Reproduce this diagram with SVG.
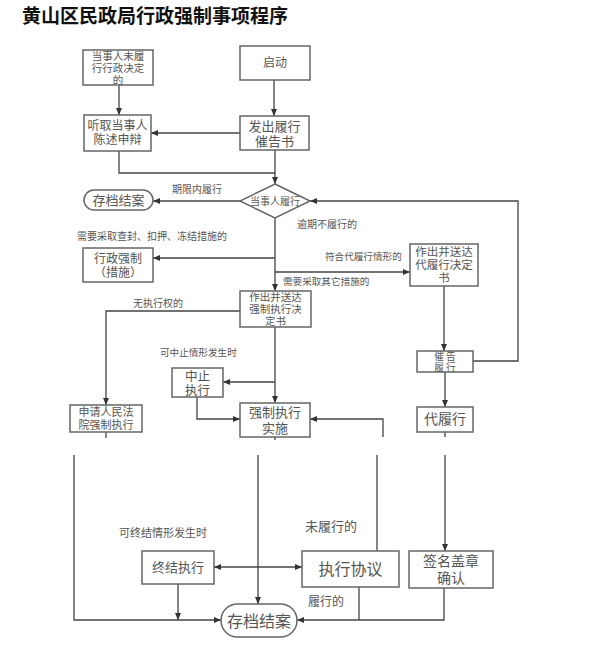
<svg xmlns="http://www.w3.org/2000/svg" width="592" height="671" viewBox="0 0 592 671">
<defs>
<marker id="ah" markerUnits="userSpaceOnUse" markerWidth="8" markerHeight="6" refX="7" refY="3" orient="auto">
<path d="M0,0 L7,3 L0,6 z" fill="#333"/>
</marker>
<marker id="ahs" markerUnits="userSpaceOnUse" markerWidth="8" markerHeight="6" refX="0" refY="3" orient="auto">
<path d="M7,0 L0,3 L7,6 z" fill="#333"/>
</marker>
<style>
.b{fill:#fff;stroke:#666;stroke-width:1.5}
.t{font-family:"Liberation Sans","Noto Sans CJK SC",sans-serif;fill:#555;text-anchor:middle}
.l{font-family:"Liberation Sans","Noto Sans CJK SC",sans-serif;fill:#555}
.c{fill:none;stroke:#444;stroke-width:1.3}
.a{marker-end:url(#ah)}
</style>
</defs>
<rect width="592" height="671" fill="#fff"/>
<text x="22" y="23" font-family="'Liberation Serif','Noto Sans CJK SC',serif" font-weight="bold" font-size="19" fill="#111">黄山区民政局行政强制事项程序</text>

<g id="connectors">
<path class="c a" d="M119,85 V115"/>
<path class="c a" d="M274,80 V116"/>
<path class="c a" d="M240,133 H151"/>
<path class="c" d="M119,151 V173 H275"/>
<path class="c a" d="M275,150 V184"/>
<path class="c a" d="M240,201 H153"/>
<path class="c a" d="M275,218 V291"/>
<path class="c a" d="M275,258 H153"/>
<path class="c a" d="M275,272 H410"/>
<path class="c a" d="M444,286 V351"/>
<path class="c a" d="M473,361 H518 V201 H310"/>
<path class="c a" d="M445,372 V407"/>
<path class="c a" d="M240,311 H106 V405"/>
<path class="c a" d="M275,327 V403"/>
<path class="c a" d="M275,382 H223"/>
<path class="c a" d="M197,397 V419 H240"/>
<path class="c a" d="M383,437 V419 H310"/>
<path class="c" d="M106,432 V438"/>
<path class="c" d="M275,437 V440"/>
<path class="c" d="M445,432 V437"/>
<path class="c a" d="M74,455 V620 H221"/>
<path class="c a" d="M258,455 V604"/>
<path class="c" d="M377,455 V551"/>
<path class="c a" d="M445,455 V551"/>
<path class="c a" d="M214,567 H302" marker-start="url(#ahs)"/>
<path class="c a" d="M178,584 V620"/>
<path class="c" d="M359,587 V620"/>
<path class="c a" d="M444,588 V620 H297"/>
</g>

<g id="n_weilvxing"><rect class="b" x="83" y="50" width="70" height="35"/>
<text class="t" font-size="10.5"><tspan x="118" y="60">当事人未履</tspan><tspan x="118" y="72">行行政决定</tspan><tspan x="118" y="84">的</tspan></text></g>
<g id="n_qidong"><rect class="b" x="240" y="46" width="70" height="34"/><text class="t" font-size="12" x="275" y="67">启动</text></g>
<g id="n_fachu"><rect class="b" x="240" y="116" width="69" height="34"/>
<text class="t" font-size="13"><tspan x="274.5" y="131">发出履行</tspan><tspan x="274.5" y="146">催告书</tspan></text></g>
<g id="n_tingqu"><rect class="b" x="84" y="115" width="67" height="36"/>
<text class="t" font-size="12"><tspan x="117.5" y="130">听取当事人</tspan><tspan x="117.5" y="143.5">陈述申辩</tspan></text></g>
<g id="n_cundang1"><rect class="b" x="84" y="190" width="69" height="20" rx="10"/><text class="t" font-size="13" x="118.5" y="205">存档结案</text></g>
<g id="n_lvxing"><path class="b" d="M275,184 L310,201 L275,218 L240,201 Z"/><text class="t" font-size="10" x="275" y="204.5">当事人履行</text></g>
<g id="n_xingzheng"><rect class="b" x="83" y="248" width="70" height="34"/>
<text class="t" font-size="12"><tspan x="118" y="263">行政强制</tspan><tspan x="118" y="276.5">（措施）</tspan></text></g>
<g id="n_dailvjd"><rect class="b" x="410" y="244" width="68" height="42"/>
<text class="t" font-size="11.5"><tspan x="444" y="256">作出并送达</tspan><tspan x="444" y="269">代履行决定</tspan><tspan x="444" y="282">书</tspan></text></g>
<g id="n_qiangzhijd"><rect class="b" x="240" y="291" width="71" height="36"/>
<text class="t" font-size="10.5"><tspan x="275.5" y="301">作出并送达</tspan><tspan x="275.5" y="313">强制执行决</tspan><tspan x="275.5" y="325">定书</tspan></text></g>
<g id="n_zhongzhi"><rect class="b" x="172" y="368" width="51" height="29"/>
<text class="t" font-size="12.5"><tspan x="197.5" y="381">中止</tspan><tspan x="197.5" y="395">执行</tspan></text></g>
<g id="n_fayuan"><rect class="b" x="70" y="405" width="72" height="27"/>
<text class="t" font-size="11"><tspan x="106" y="416">申请人民法</tspan><tspan x="106" y="429">院强制执行</tspan></text></g>
<g id="n_shishi"><rect class="b" x="240" y="403" width="70" height="34"/>
<text class="t" font-size="13"><tspan x="275" y="417">强制执行</tspan><tspan x="275" y="433">实施</tspan></text></g>
<g id="n_cuigao"><rect class="b" x="417" y="351" width="56" height="21"/>
<text class="t" font-size="9.7" letter-spacing="2"><tspan x="446" y="360">催告</tspan><tspan x="446" y="371">履行</tspan></text></g>
<g id="n_dailvxing"><rect class="b" x="417" y="407" width="56" height="25"/><text class="t" font-size="14" x="445" y="424">代履行</text></g>
<g id="n_zhongjie"><rect class="b" x="142" y="551" width="72" height="33"/><text class="t" font-size="13" x="178" y="572">终结执行</text></g>
<g id="n_xieyi"><rect class="b" x="302" y="551" width="97" height="36"/><text class="t" font-size="16" x="350.5" y="575">执行协议</text></g>
<g id="n_qianming"><rect class="b" x="409" y="551" width="84" height="37"/>
<text class="t" font-size="14"><tspan x="451" y="566">签名盖章</tspan><tspan x="451" y="583">确认</tspan></text></g>
<g id="n_cundang2"><rect class="b" x="221" y="604" width="76" height="33" rx="16.5"/><text class="t" font-size="16" x="259" y="627">存档结案</text></g>

<g id="labels">
<text class="l" font-size="10" x="172" y="193">期限内履行</text>
<text class="l" font-size="10" x="77" y="240">需要采取查封、扣押、冻结措施的</text>
<text class="l" font-size="10" x="297" y="228">逾期不履行的</text>
<text class="l" font-size="9.6" x="325" y="260">符合代履行情形的</text>
<text class="l" font-size="9.6" x="283" y="285">需要采取其它措施的</text>
<text class="l" font-size="10" x="133" y="307">无执行权的</text>
<text class="l" font-size="9.6" x="160" y="356">可中止情形发生时</text>
<text class="l" font-size="11" x="119" y="537">可终结情形发生时</text>
<text class="l" font-size="13" x="305" y="531">未履行的</text>
<text class="l" font-size="12" x="308" y="606">履行的</text>
</g>
</svg>
